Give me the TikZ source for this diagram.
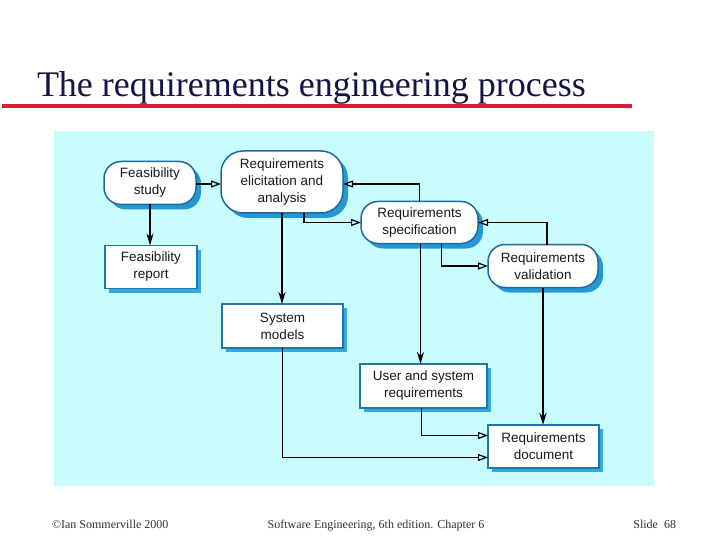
\documentclass[tikz,border=0pt]{standalone}
\usepackage{fontspec}
\setmainfont{Liberation Serif}
\newfontfamily\boxfont{Liberation Sans}
\usetikzlibrary{arrows.meta,shadows,calc}
\definecolor{panel}{HTML}{C9FCFC}
\definecolor{edgeblue}{HTML}{1D6A9C}
\definecolor{shadeA}{HTML}{2497D6}
\definecolor{shadeB}{HTML}{32A9E2}
\definecolor{titlecol}{HTML}{141445}
\definecolor{rulered}{HTML}{E2183A}
\begin{document}
\begin{tikzpicture}[x=1pt,y=-1pt,
  every node/.style={inner sep=0pt,outer sep=0pt},
  procbox/.style={draw=edgeblue,line width=1.5pt,fill=white,rounded corners=17pt,
    align=center,font=\boxfont\fontsize{13.5}{17}\selectfont,text=black!90,
    drop shadow={shadow xshift=5pt,shadow yshift=-5pt,fill=shadeA,opacity=1}},
  docbox/.style={draw=edgeblue!80!shadeB,line width=1.5pt,fill=white,
    align=center,font=\boxfont\fontsize{13.5}{17}\selectfont,text=black!90,
    drop shadow={shadow xshift=4pt,shadow yshift=-4pt,fill=shadeB,opacity=1}},
  openarr/.style={line width=1.4pt,-{Triangle[open,length=10pt,width=7pt,line width=1.2pt]}},
  fillarr/.style={line width=1.6pt,-{Stealth[length=12pt,width=7pt]}},
  foot/.style={font=\fontsize{12}{14}\selectfont,text=black!80}
]
\useasboundingbox (0,0) rectangle (720,540);
\fill[white] (0,0) rectangle (720,540);
% title
\node[anchor=base west,font=\fontsize{36}{40}\selectfont,text=titlecol] (title) at (37,97) {The requirements engineering process};
\draw[rulered,line width=4pt] (2,106) -- (632,106);
% panel
\fill[panel] (54,131) rectangle (654,486);
% nodes
\node[procbox,minimum width=92pt,minimum height=43pt] (fs) at (150,183) {Feasibility\\study};
\node[docbox,minimum width=92pt,minimum height=43pt] (fr) at (151,267) {Feasibility\\report};
\node[procbox,minimum width=122pt,minimum height=62pt,rounded corners=22pt] (elic) at (282,182) {Requirements\\elicitation and\\analysis};
\node[procbox,minimum width=117pt,minimum height=42pt] (spec) at (419.5,222.5) {Requirements\\specification};
\node[procbox,minimum width=110pt,minimum height=43pt] (val) at (543,266) {Requirements\\validation};
\node[docbox,minimum width=121pt,minimum height=44pt] (sys) at (282.5,326) {System\\models};
\node[docbox,minimum width=127pt,minimum height=44pt] (usr) at (423.5,386) {User and system\\requirements};
\node[docbox,minimum width=111pt,minimum height=43pt] (doc) at (543.5,446.5) {Requirements\\document};
% connectors
\draw[openarr] ([yshift=-1pt]fs.east) -- ([yshift=-1pt]fs.east -| elic.west);
\draw[fillarr] (fs.south) -- (fs.south |- fr.north);
\draw[fillarr] (elic.south) -- (elic.south |- sys.north);
\draw[openarr] ([xshift=22pt]elic.south) |- (spec.west);
\draw[openarr] (spec.north) |- ([yshift=-2pt]elic.east);
\draw[fillarr] ([xshift=1pt]spec.south) -- ([xshift=1pt]spec.south |- usr.north);
\draw[openarr] ([xshift=22pt]spec.south) |- (val.west);
\draw[openarr] ([xshift=4pt]val.north) |- (spec.east);
\draw[fillarr,line width=2.4pt] (val.south) -- (val.south |- doc.north);
\draw[openarr] ([xshift=-2pt]usr.south) |- ([yshift=11pt]doc.west);
\draw[openarr] (sys.south) |- ([yshift=-11pt]doc.west);
% footer
\node[foot,anchor=base west] (f1) at (52,528) {\textcopyright Ian Sommerville 2000};
\node[foot,anchor=base] (f2) at (376,528) {Software Engineering, 6th edition. Chapter 6};
\node[foot,anchor=base east] (f3) at (676,528) {Slide~~68};
\end{tikzpicture}
\end{document}
